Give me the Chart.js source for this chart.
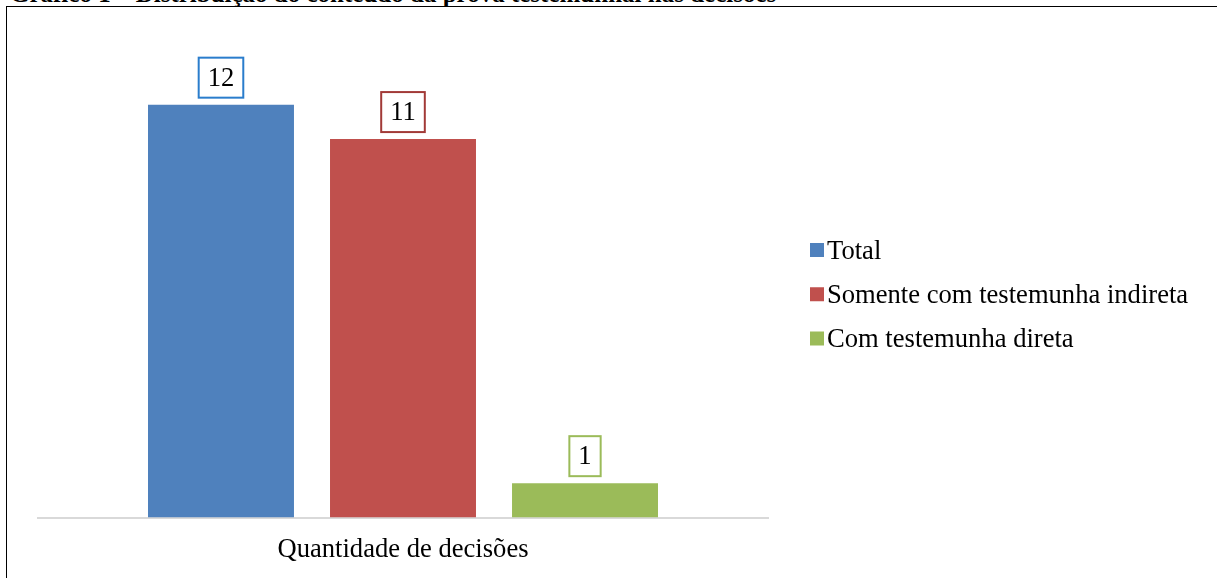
<!DOCTYPE html>
<html><head><meta charset="utf-8">
<script src="https://cdn.jsdelivr.net/npm/chart.js@4.4.0/dist/chart.umd.min.js"></script>
<style>
html,body{margin:0;padding:0;width:1217px;height:578px;overflow:hidden;background:#fff;}
#title{position:absolute;left:10px;top:-19.5px;font:bold 25px "Liberation Serif","Times New Roman",serif;line-height:25px;white-space:nowrap;color:#000;}
#frame{position:absolute;left:6px;top:6px;width:1400px;height:800px;border:1.5px solid #000;}
#c{position:absolute;left:0;top:0;}
</style></head><body>
<div id="title">Gráfico 1 – Distribuição do conteúdo da prova testemunhal nas decisões</div>
<div id="frame"></div>
<canvas id="c" width="1217" height="578"></canvas>
<script>
const categories = ['Quantidade de decisões'];
const seriesNames = ['Total', 'Somente com testemunha indireta', 'Com testemunha direta'];
const seriesValues = [[12], [11], [1]];
const barColors = ['#4F81BD', '#C0504D', '#9BBB59'];
const labelBorderColors = ['#2A7DCC', '#A23A37', '#9BBB59'];
const FONT = '"Liberation Serif", "Times New Roman", serif';
const FSIZE = 26.6;

const labelPlugin = {
  id: 'valueBoxes',
  afterDatasetsDraw(chart) {
    const c = chart.ctx;
    c.save();
    c.font = FSIZE + 'px ' + FONT;
    c.textAlign = 'center';
    c.textBaseline = 'middle';
    chart.data.datasets.forEach((ds, i) => {
      const meta = chart.getDatasetMeta(i);
      meta.data.forEach((bar, j) => {
        const txt = String(ds.data[j]);
        const w = c.measureText(txt).width + 18;
        const h = 40;
        const x = bar.x, bottom = bar.y - 7;
        c.fillStyle = '#fff';
        c.fillRect(x - w / 2, bottom - h, w, h);
        c.strokeStyle = labelBorderColors[i];
        c.lineWidth = 2;
        c.strokeRect(x - w / 2, bottom - h, w, h);
        c.fillStyle = '#000';
        c.fillText(txt, x, bottom - h / 2 + 1);
      });
    });
    c.restore();
  }
};

const legendPlugin = {
  id: 'sideLegend',
  afterDraw(chart) {
    const c = chart.ctx;
    const x0 = chart.chartArea.right + 42;
    c.save();
    c.font = FSIZE + 'px ' + FONT;
    c.textAlign = 'left';
    c.textBaseline = 'alphabetic';
    chart.data.datasets.forEach((ds, i) => {
      const cy = 250 + i * 44.25;
      c.fillStyle = ds.backgroundColor;
      c.fillRect(x0, cy - 7, 14, 14);
      c.fillStyle = '#000';
      c.fillText(ds.label, x0 + 17, cy + 8.5);
    });
    c.restore();
  }
};

new Chart(document.getElementById('c'), {
  type: 'bar',
  data: {
    labels: categories,
    datasets: seriesNames.map((n, i) => ({
      label: n,
      data: seriesValues[i],
      backgroundColor: barColors[i],
      borderWidth: 0,
      categoryPercentage: 0.748,
      barPercentage: 0.802
    }))
  },
  options: {
    responsive: false,
    animation: false,
    devicePixelRatio: 1,
    layout: { padding: { left: 38, right: 449, top: 30, bottom: -3.5 } },
    plugins: { legend: { display: false }, tooltip: { enabled: false } },
    scales: {
      x: {
        grid: { display: false, drawTicks: false },
        border: { display: true, color: '#D9D9D9', width: 2 },
        ticks: { color: '#000', font: { family: FONT, size: FSIZE }, padding: 16 }
      },
      y: { display: false, min: 0, max: 14.17 }
    }
  },
  plugins: [labelPlugin, legendPlugin]
});
</script>
</body></html>
